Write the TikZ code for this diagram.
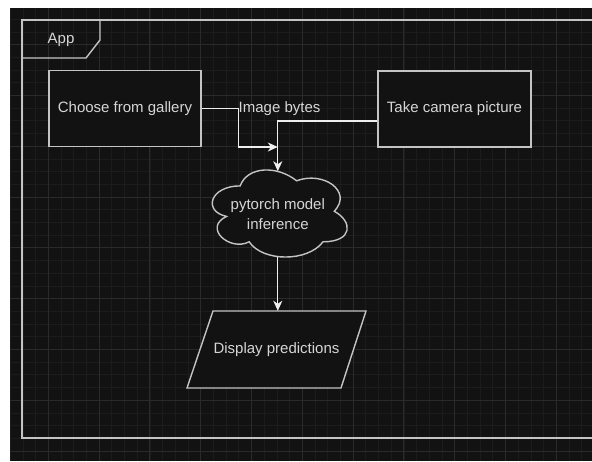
\documentclass[tikz,border=0pt]{standalone}
\usepackage{fontspec}
\setmainfont{Liberation Sans}
\usetikzlibrary{arrows.meta,calc}

\definecolor{bgdark}{HTML}{121212}
\definecolor{gridlo}{HTML}{1C1C1C}
\definecolor{gridhi}{HTML}{2A2A2A}
\definecolor{linec}{HTML}{C4C4C4}
\definecolor{textc}{HTML}{D6D6D6}
\definecolor{arrowc}{HTML}{EEEEEE}

\tikzset{
    gridminor/.style={draw=gridlo,line width=0.8pt},
    gridmajor/.style={draw=gridhi,line width=1pt},
    frameline/.style={draw=linec,line width=1.4pt},
    txt/.style={text=textc,font=\fontsize{15}{20}\selectfont,inner sep=0pt},
    actbox/.style={txt,draw=linec,fill=bgdark,line width=1.4pt,minimum width=152pt,minimum height=76pt},
    shapeline/.style={draw=linec,fill=bgdark,line width=1.4pt},
    flow/.style={draw=arrowc,line width=1.3pt,-{Stealth[length=10pt,width=9pt,inset=3pt]}}
}

\begin{document}
\begin{tikzpicture}[x=1pt,y=-1pt]
    \useasboundingbox (0,0) rectangle (592,461);
    \fill[white] (0,0) rectangle (592,461);
    \fill[bgdark] (10,8) rectangle (592,461);

    \begin{scope}
        \clip (10,8) rectangle (592,461);
        \foreach \i in {0,...,46}
            \draw[gridminor] ({10.2+12.7*\i},8) -- ++(0,453);
        \foreach \i in {0,...,36}
            \draw[gridminor] (10,{6.5+12.7*\i}) -- ++(582,0);
        \foreach \i in {0,...,10}
            \draw[gridmajor] ({48.3+50.8*\i},8) -- ++(0,453);
        \foreach \i in {0,...,8}
            \draw[gridmajor] (10,{44.6+50.8*\i}) -- ++(582,0);
    \end{scope}

    % frame
    \draw[frameline] (592,20) -- (22,20) -- (22,438) -- (592,438);
    \draw[frameline] (22,58) -- (86,58) -- (100,40) -- (100,20);
    \node[txt] (app) at (61,40) {App};

    \node[actbox] (gallery) at (125,108.5) {Choose from gallery};
    \node[actbox,minimum width=153pt] (camera) at (454.5,109) {Take camera picture};

    \path[shapeline] (240.15,185.9) .. controls (210.0,185.9) and (202.5,211.3) .. (226.6,216.4)
        .. controls (202.5,227.6) and (229.6,251.9) .. (249.2,241.8)
        .. controls (262.7,262.1) and (307.9,262.1) .. (323.0,241.8)
        .. controls (353.1,241.8) and (353.1,221.5) .. (334.3,211.3)
        .. controls (353.1,191.0) and (323.0,170.7) .. (296.6,180.8)
        .. controls (277.8,165.6) and (247.7,165.6) .. (240.15,185.9) -- cycle;
    \node[txt,align=center,minimum width=120pt,minimum height=85pt] (infer) at (277.8,213.9) {pytorch model\\inference};

    \path[shapeline] (213,311) -- (366,311) -- (341,388) -- (187,388) -- cycle;
    \node[txt,minimum width=153pt,minimum height=77pt] (disp) at (276.5,349.5) {Display predictions};

    \coordinate (join) at (infer.north |- 0,147);
    \draw[flow] ([yshift=-12pt]camera.west) -| (infer.north);
    \draw[flow] (gallery.east) -- ++(37,0) |- (join);
    \node[txt,anchor=west] (bytes) at (238.5,109) {Image bytes};
    \draw[flow] (infer.south) -- (infer.south |- disp.north);
\end{tikzpicture}
\end{document}
